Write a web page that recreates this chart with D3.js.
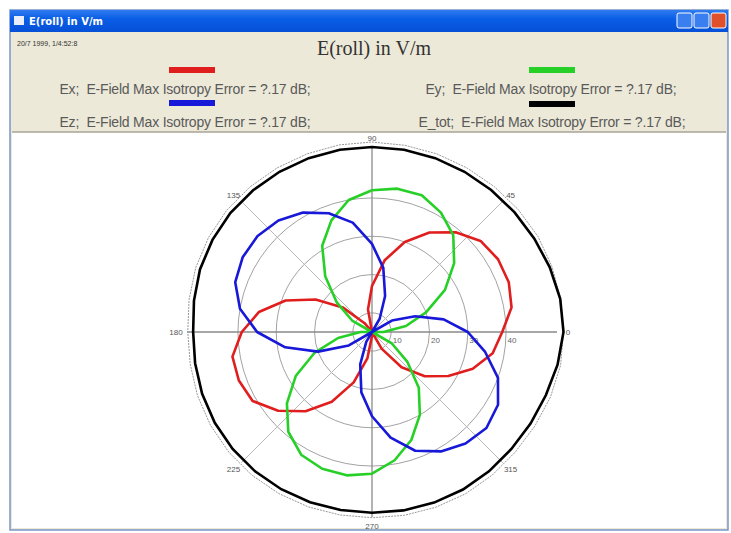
<!DOCTYPE html>
<html>
<head>
<meta charset="utf-8">
<script src="https://cdn.jsdelivr.net/npm/d3@7"></script>
<style>
  body { margin: 0; background: #fff; }
  svg { display: block; }
</style>
</head>
<body>
<div id="chart"></div>
<script>
// ---- data ----
var angles = [0, 10, 20, 30, 40, 50, 60, 70, 80, 90, 100, 110, 120, 130, 140, 150, 160, 170,
              180, 190, 200, 210, 220, 230, 240, 250, 260, 270, 280, 290, 300, 310, 320, 330, 340, 350];
var exVals = [39, 42, 43, 43, 42, 39, 35, 30, 24, 17, 11, 5, 3, 8, 15, 22, 29, 35,
              39, 42, 42, 41, 37, 32, 26, 19, 12, 6, 3, 4, 10, 17, 23, 28, 33, 37];
var eyVals = [8, 14, 20, 27, 33, 38, 41, 43, 43, 42, 40, 36, 31, 24, 17, 11, 5, 3,
              8, 14, 21, 28, 34, 39, 42, 43, 43, 42, 39, 35, 30, 24, 17, 11, 5, 3];
var ezVals = [30, 24, 17, 11, 5, 3, 9, 15, 22, 28, 34, 38, 41, 43, 44, 44, 43, 40,
              35, 28, 20, 12, 5, 3, 8, 14, 21, 27, 33, 38, 41, 43, 44, 43, 40, 35];
var etotVals = [55.2, 54.9, 54.4, 53.9, 53.6, 53.4, 53.3, 53.3, 53.3, 53.3, 53.3, 53.3, 53.3, 53.3, 53.3, 53.1, 52.8, 52.2,
                51.7, 51.9, 52.2, 52.4, 52.5, 52.5, 52.4, 52.3, 52.2, 52.2, 52.3, 52.4, 52.5, 52.5, 52.5, 52.8, 53.3, 54.2];
var etotMaxVals = [56.4, 56.1, 55.6, 55.1, 54.8, 54.6, 54.5, 54.5, 54.5, 54.6, 54.6, 54.5, 54.5, 54.5, 54.5, 54.3, 54.0, 53.5,
                   53.1, 53.2, 53.5, 53.7, 53.8, 53.8, 53.7, 53.6, 53.5, 53.5, 53.6, 53.7, 53.8, 53.8, 53.8, 54.1, 54.6, 55.4];
var ringTicks = [10, 20, 30, 40];
var spokeAngles = [0, 45, 90, 135, 180, 225, 270, 315];
var spokeLabels = ["0", "45", "90", "135", "180", "225", "270", "315"];
var legendNames = ["Ex", "Ey", "Ez", "E_tot"];
var legendColors = ["#e01e1e", "#26d026", "#1818d8", "#000000"];
var errorText = "E-Field Max Isotropy Error = ?.17 dB;";
var chartTitle = "E(roll) in V/m";
var stampText = "20/7 1999, 1/4:52:8";

var W = 731, H = 533;
var svg = d3.select("#chart").append("svg").attr("width", W).attr("height", H);

// ---- window chrome ----
var win = { x: 10, y: 10, w: 718, h: 520 };
var grad = svg.append("defs").append("linearGradient").attr("id", "tb")
    .attr("x1", 0).attr("y1", 0).attr("x2", 0).attr("y2", 1);
grad.append("stop").attr("offset", "0%").attr("stop-color", "#2f7cf0");
grad.append("stop").attr("offset", "40%").attr("stop-color", "#0a5ee6");
grad.append("stop").attr("offset", "100%").attr("stop-color", "#0550d6");

svg.append("rect").attr("x", win.x).attr("y", win.y).attr("width", win.w).attr("height", win.h)
    .attr("fill", "#ece9d8").attr("stroke", "#7a96c8").attr("stroke-width", 1.5);
svg.append("rect").attr("x", win.x).attr("y", win.y).attr("width", win.w).attr("height", 22)
    .attr("fill", "url(#tb)");
svg.append("rect").attr("x", 14).attr("y", 16).attr("width", 10).attr("height", 9)
    .attr("fill", "#e8eefc");
svg.append("text").attr("x", 29).attr("y", 25).text(chartTitle)
    .style("font-family", "Tahoma, 'DejaVu Sans', sans-serif").style("font-size", "10px")
    .style("font-weight", "bold").attr("fill", "#fff");
// min / max / close buttons
[{ x: 677, c: "#3a7ff0" }, { x: 694, c: "#3a7ff0" }, { x: 711, c: "#e0502a" }].forEach(function (b) {
    svg.append("rect").attr("x", b.x).attr("y", 13).attr("width", 15).attr("height", 15).attr("rx", 2)
        .attr("fill", b.c).attr("stroke", "#fff").attr("stroke-width", 1);
});

// plot area (drawn before header texts so descenders stay visible)
svg.append("rect").attr("x", 12).attr("y", 132).attr("width", win.w - 4).attr("height", 396).attr("fill", "#fff");
svg.append("line").attr("x1", 12).attr("x2", win.x + win.w - 2).attr("y1", 132).attr("y2", 132)
    .attr("stroke", "#a8a49a").attr("stroke-width", 1.5);

svg.append("text").attr("x", 17).attr("y", 46).text(stampText)
    .style("font-family", "'Liberation Sans', Arial, sans-serif").style("font-size", "7px").attr("fill", "#333");
svg.append("text").attr("x", 374).attr("y", 55).attr("text-anchor", "middle").text(chartTitle)
    .style("font-family", "'Liberation Serif', 'Times New Roman', serif").style("font-size", "20px").attr("fill", "#333");

// legend
var legendPos = [{ cx: 192, tx: 185, y: 67, ty: 94 }, { cx: 552, tx: 551, y: 67, ty: 94 },
                 { cx: 192, tx: 185, y: 100, ty: 127 }, { cx: 552, tx: 552, y: 101, ty: 127 }];
legendNames.forEach(function (n, i) {
    var p = legendPos[i];
    svg.append("rect").attr("x", p.cx - 23).attr("y", p.y).attr("width", 46).attr("height", 6)
        .attr("fill", legendColors[i]);
    svg.append("text").attr("x", p.tx).attr("y", p.ty).attr("text-anchor", "middle")
        .text(n + ";  " + errorText).style("white-space", "pre")
        .style("font-family", "'Liberation Sans', Arial, sans-serif").style("font-size", "14px")
        .style("letter-spacing", "-0.2px").attr("fill", "#5a5a5a");
});

// ---- polar plot ----
var cx = 372, cy = 332;
var rScale = d3.scaleLinear().domain([5, 55]).range([0, 191.5]).clamp(true);
var g = svg.append("g").attr("transform", "translate(" + cx + "," + cy + ")");
var rad = function (a) { return a * Math.PI / 180; };
var outerR = rScale(53.3);

g.selectAll(".ring").data(ringTicks).enter().append("circle")
    .attr("r", function (d) { return rScale(d); })
    .attr("fill", "none").attr("stroke", "#8a8a8a").attr("stroke-width", 0.8);

g.selectAll(".spoke").data(spokeAngles).enter().append("line")
    .attr("x1", 0).attr("y1", 0)
    .attr("x2", function (d) { return outerR * Math.cos(rad(d)); })
    .attr("y2", function (d) { return -outerR * Math.sin(rad(d)); })
    .attr("stroke", function (d) { return d % 90 === 0 ? "#8a8a8a" : "#b8b8b8"; })
    .attr("stroke-width", function (d) { return d % 90 === 0 ? 1.3 : 1; });

g.selectAll(".rlab").data(ringTicks).enter().append("text")
    .attr("x", function (d) { return rScale(d) + 6; }).attr("y", 11)
    .attr("text-anchor", "middle").text(function (d) { return d; })
    .style("font-family", "'Liberation Sans', Arial, sans-serif").style("font-size", "8px").attr("fill", "#666");

g.selectAll(".alab").data(spokeAngles).enter().append("text")
    .attr("x", function (d) { return 196 * Math.cos(rad(d)); })
    .attr("y", function (d) { return -194 * Math.sin(rad(d)) + 3; })
    .attr("text-anchor", "middle").text(function (d, i) { return spokeLabels[i]; })
    .style("font-family", "'Liberation Sans', Arial, sans-serif").style("font-size", "8px").attr("fill", "#555");

var line = d3.lineRadial()
    .angle(function (d) { return rad(90 - d.a); })
    .radius(function (d) { return rScale(d.v); })
    .curve(d3.curveLinearClosed);
var toPts = function (vals) { return angles.map(function (a, i) { return { a: a, v: vals[i] }; }); };

g.append("path").attr("d", line(toPts(etotMaxVals))).attr("fill", "none")
    .attr("stroke", "#999").attr("stroke-width", 1).attr("stroke-dasharray", "2,1");
g.append("path").attr("d", line(toPts(etotVals))).attr("fill", "none")
    .attr("stroke", legendColors[3]).attr("stroke-width", 2.6);

var series = [{ vals: exVals, c: legendColors[0] }, { vals: eyVals, c: legendColors[1] }, { vals: ezVals, c: legendColors[2] }];
series.forEach(function (s) {
    g.append("path").attr("d", line(toPts(s.vals))).attr("fill", "none")
        .attr("stroke", s.c).attr("stroke-width", 2.6).attr("stroke-linejoin", "round");
});
</script>
</body>
</html>
